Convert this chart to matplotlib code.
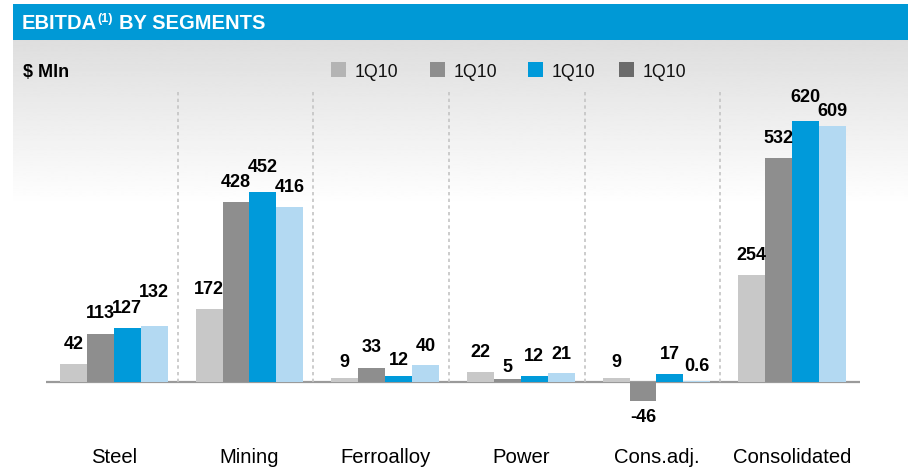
import numpy as np
import matplotlib
matplotlib.use("Agg")
import matplotlib.pyplot as plt
from matplotlib.patches import Rectangle

plt.rcParams['font.family'] = ['Liberation Sans', 'DejaVu Sans']

# Datos
categories = ['Steel', 'Mining', 'Ferroalloy', 'Power', 'Cons.adj.', 'Consolidated']
legend_labels = ['1Q10', '1Q10', '1Q10', '1Q10']
s1 = [42, 172, 9, 22, 9, 254]
s2 = [113, 428, 33, 5, -46, 532]
s3 = [127, 452, 12, 12, 17, 620]
s4 = [132, 416, 40, 21, 0.6, 609]
series = [s1, s2, s3, s4]

# Estilo
bar_colors = ['#c8c8c8', '#8e8e8e', '#009ada', '#b3d9f2']
legend_colors = ['#b4b4b4', '#8e8e8e', '#009ada', '#6b6b6b']
header_blue = '#0099d6'

# distancia (px) entre la etiqueta y la barra
label_gap = [[15, 15, 11, 15, 11, 15],
             [16, 15, 16, 7, 21, 15],
             [15, 20, 11, 15, 15, 19],
             [29, 15, 14, 14, 10, 10]]

W, H = 908, 469
fig = plt.figure(figsize=(W / 100, H / 100), dpi=100)

# Fondo: cabecera azul + degradado gris
bg = fig.add_axes([0, 0, 1, 1])
bg.axis('off')
grad = np.linspace(0.87, 1.0, 200)[:, None]
bg.imshow(grad, extent=[13, W, 205, 40.5], cmap='gray', vmin=0, vmax=1,
          aspect='auto', interpolation='bilinear')
bg.add_patch(Rectangle((13, 4), W - 13, 36.5, color=header_blue, lw=0))
bg.set_xlim(0, W)
bg.set_ylim(H, 0)

bg.text(22, 29, 'EBITDA', color='white', fontsize=14.5, weight='bold', va='baseline')
bg.text(97, 22, '(1)', color='white', fontsize=9, weight='bold', va='baseline')
bg.text(119, 29, 'BY SEGMENTS', color='white', fontsize=14.5, weight='bold', va='baseline')

bg.text(23, 77, '$ Mln', fontsize=13, weight='bold', va='baseline')

leg_x = [331, 430, 528, 619]
for lx, lab, c in zip(leg_x, legend_labels, legend_colors):
    bg.add_patch(Rectangle((lx, 62), 15, 15, color=c, lw=0))
    bg.text(lx + 24, 77, lab, fontsize=12.8, va='baseline', color='#111111')

# Gráfico principal
ax = fig.add_axes([46 / W, 39 / H, 814 / W, 340 / H])
ax.set_zorder(2)
ax.patch.set_alpha(0)
ax.axis('off')
ax.set_xlim(-0.5, 5.5)
ax.set_ylim(-115.4, 693.7)

x = np.arange(len(categories))
w = 0.199
ax.axhline(0, color='#9a9a9a', lw=1.6, zorder=1)
ax.vlines(x[:-1] + 0.47, 0, 693.7, colors='#c4c4c4', linestyles=(0, (2, 2)), lw=1.2)

for j, vals in enumerate(series):
    xs = x + (j - 1.5) * w
    ax.bar(xs, vals, width=w, color=bar_colors[j], zorder=2)
    for i, (xi, v) in enumerate(zip(xs, vals)):
        g = label_gap[j][i] * 0.72
        dy = g if v >= 0 else -g
        ax.annotate(f'{v:g}', (xi, v), xytext=(0, dy), textcoords='offset points',
                    ha='center', va='baseline', fontsize=13, weight='bold')

for i, name in enumerate(categories):
    ax.annotate(name, (x[i], 0), xytext=(0, -81.5 * 0.72), textcoords='offset points',
                ha='center', va='baseline', fontsize=14.6, annotation_clip=False)

fig.savefig('out.png', dpi=100)
